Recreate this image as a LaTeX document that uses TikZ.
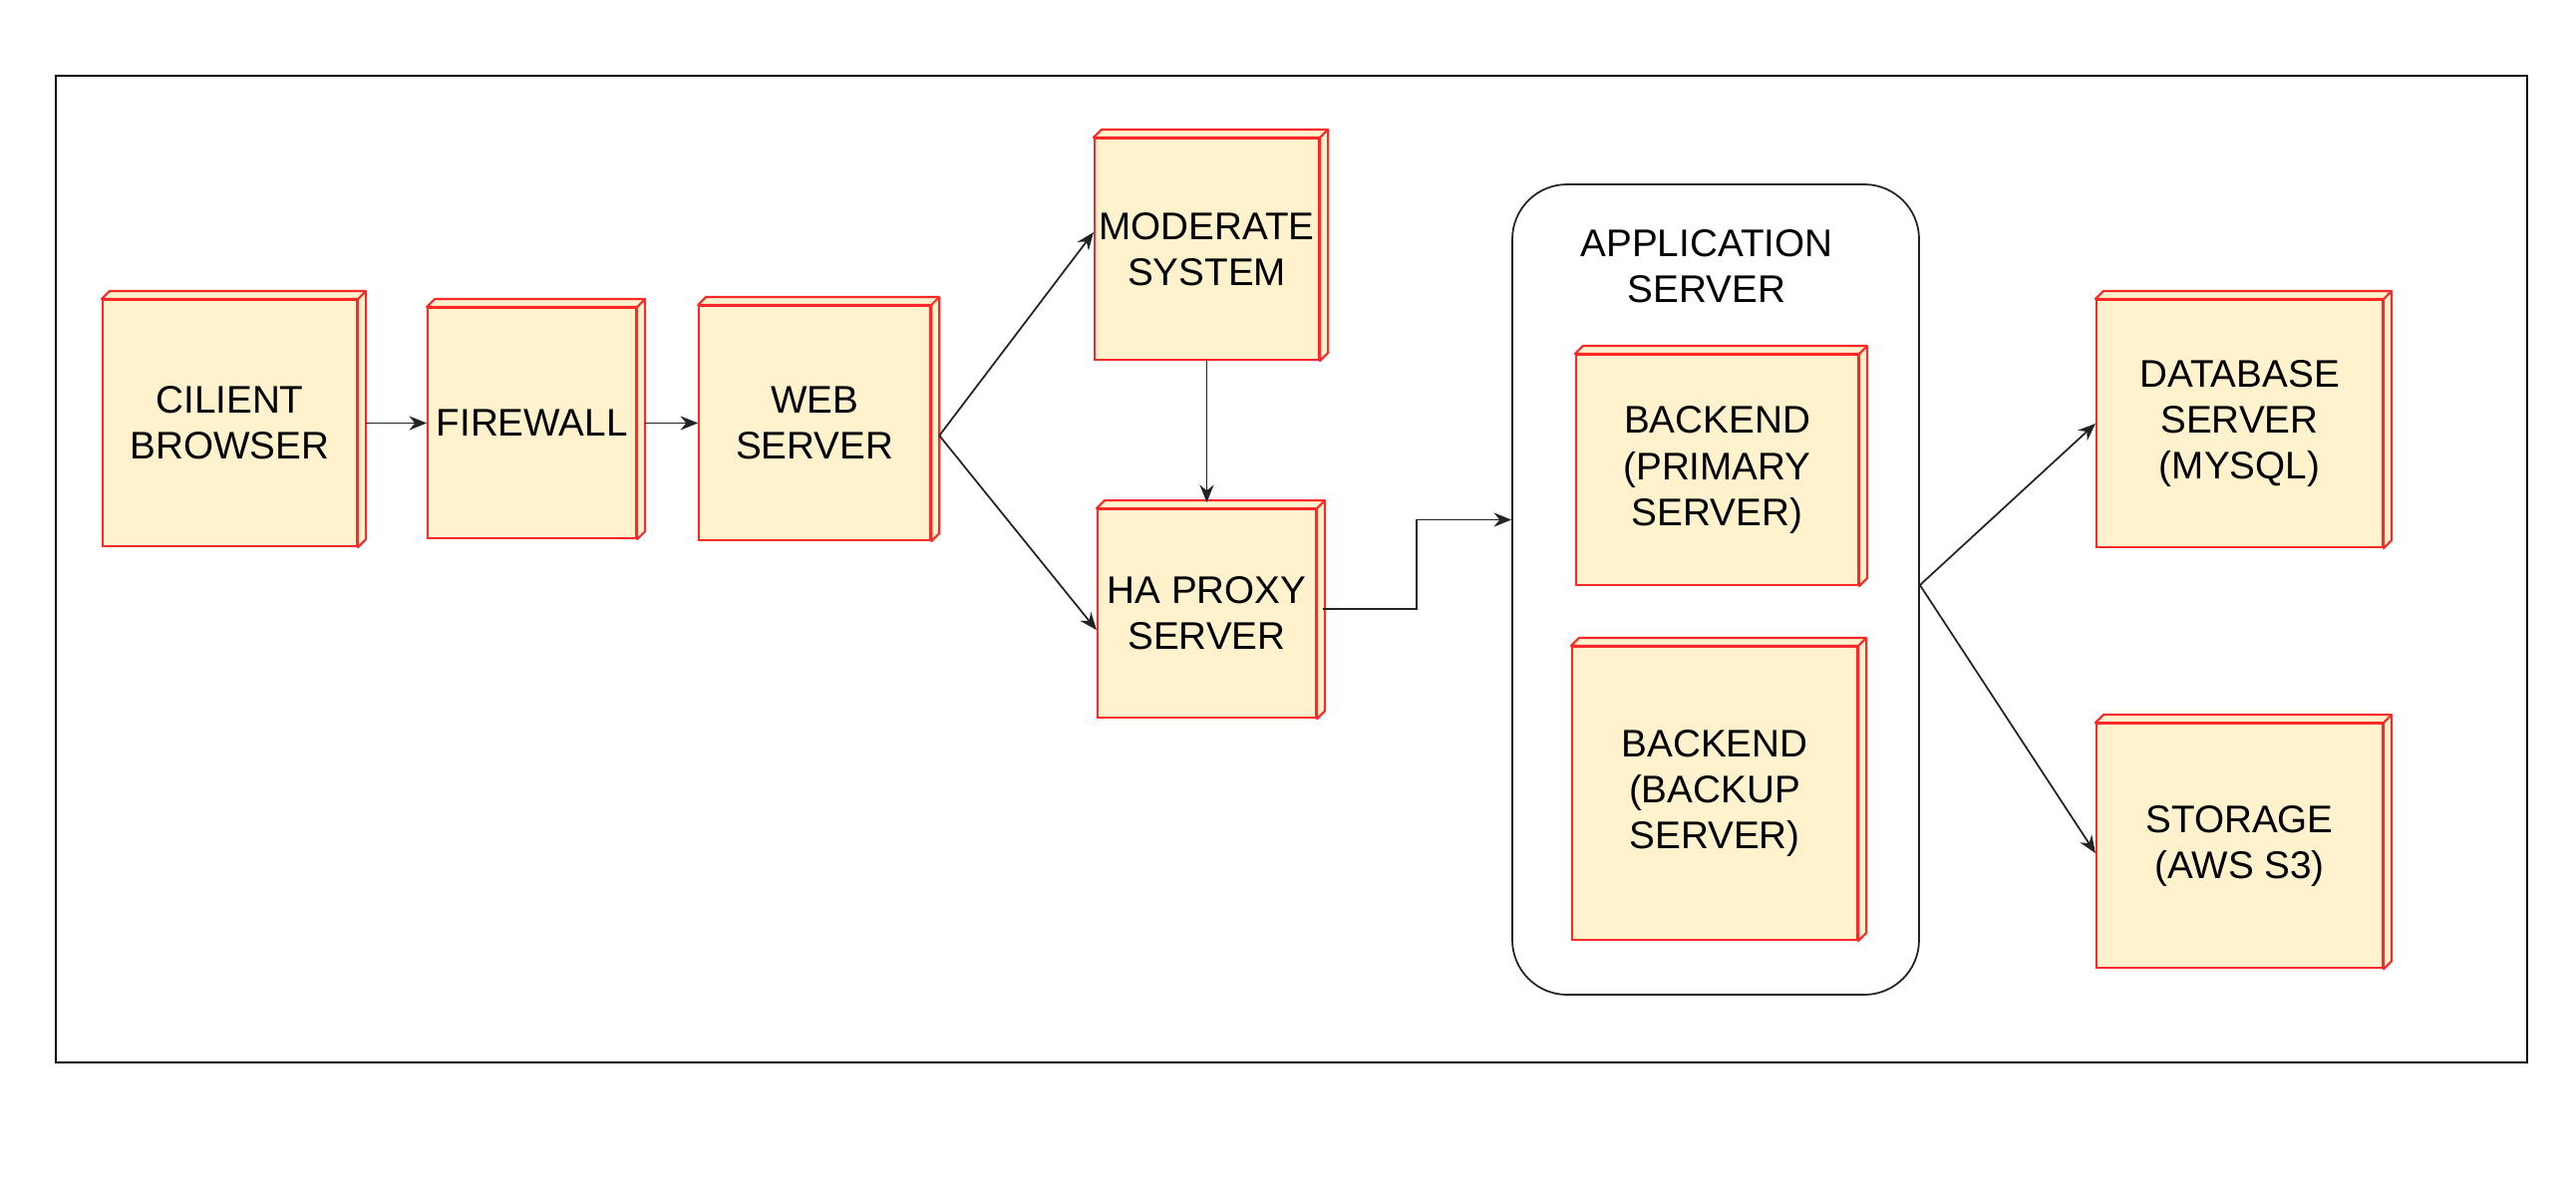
\documentclass[tikz,border=0pt]{standalone}
\usepackage{fontspec}
\setmainfont{Liberation Sans}
\usepackage{tikz}
\usepackage{xcolor}
\usetikzlibrary{arrows.meta, positioning, backgrounds}
\definecolor{boxfill}{RGB}{255,242,204}
\definecolor{boxedge}{RGB}{255,40,40}
\definecolor{linkcolor}{RGB}{35,35,35}

\begin{document}
\begin{tikzpicture}[
  font=\fontsize{11}{13.1}\selectfont,
  every node/.style={align=center},
  srvbox/.style={
    draw=boxedge, fill=boxfill, line width=0.6pt,
    inner sep=0pt
  },
  sideface/.style={draw=boxedge, fill=boxfill, line width=0.6pt, line join=round},
  groupbox/.style={
    draw=linkcolor, rounded corners=0.55cm, line width=0.5pt,
    minimum width=4.08cm, minimum height=8.13cm
  },
  arr/.style={-{Stealth[length=5pt, width=4pt]}, linkcolor, line width=0.5pt},
]
\useasboundingbox (0,0) rectangle (25.84,-12);

%% ─── Outer frame ─────────────────────────────────────────────────────────────

\node[draw=black, line width=0.5pt, minimum width=24.79cm, minimum height=9.90cm]
  (frame) at (12.955,-5.71) {};

%% ─── Application server group ────────────────────────────────────────────────

\node[groupbox] (app) at (17.21,-5.915) {};
\node (applabel) at (17.12,-2.675) {APPLICATION\\SERVER};

%% ─── Front row ───────────────────────────────────────────────────────────────

\node[srvbox, minimum width=2.55cm, minimum height=2.47cm] (client) at (2.305,-4.245)
  {CILIENT\\BROWSER};
\node[srvbox, minimum width=2.09cm, minimum height=2.31cm, right=0.69cm of client]
  (firewall) {FIREWALL};
\node[srvbox, minimum width=2.32cm, minimum height=2.35cm, right=0.61cm of firewall]
  (web) {WEB\\SERVER};

%% ─── Moderation / proxy ──────────────────────────────────────────────────────

\node[srvbox, minimum width=2.25cm, minimum height=2.22cm] (moderate) at (12.105,-2.50)
  {MODERATE\\SYSTEM};
\node[srvbox, minimum width=2.19cm, minimum height=2.09cm, below=1.48cm of moderate]
  (haproxy) {HA PROXY\\SERVER};

%% ─── Backends ────────────────────────────────────────────────────────────────

\node[srvbox, minimum width=2.83cm, minimum height=2.31cm] (primary) at (17.225,-4.715)
  {BACKEND\\(PRIMARY\\SERVER)};
\node[srvbox, minimum width=2.86cm, minimum height=2.94cm] (backup) at (17.20,-7.96)
  {BACKEND\\(BACKUP\\SERVER)};

%% ─── Data stores ─────────────────────────────────────────────────────────────

\node[srvbox, minimum width=2.87cm, minimum height=2.48cm] (database) at (22.465,-4.25)
  {DATABASE\\SERVER\\(MYSQL)};
\node[srvbox, minimum width=2.87cm, minimum height=2.45cm, below=1.75cm of database]
  (storage) {STORAGE\\(AWS S3)};

%% ─── 3D side faces ───────────────────────────────────────────────────────────

\foreach \nd in {client, firewall, web, moderate, haproxy, primary, backup, database, storage}{
  \draw[sideface] (\nd.north west) -- ++(0.08,0.08) -- ([shift={(0.08,0.08)}]\nd.north east)
    -- ([shift={(0.08,0.08)}]\nd.south east) -- (\nd.south east) -- (\nd.north east) -- cycle;
  \draw[sideface] (\nd.north east) -- ++(0.08,0.08);
}

%% ─── Connectors ──────────────────────────────────────────────────────────────

\draw[arr] ([xshift=0.08cm]client.east) -- (firewall.west);
\draw[arr] ([xshift=0.08cm]firewall.east) -- (web.west);

\coordinate (webout) at ([xshift=0.08cm, yshift=-0.125cm]web.east);
\draw[arr] (webout) -- ([yshift=0.17cm]moderate.west);
\draw[arr] (webout) -- ([yshift=-0.165cm]haproxy.west);

\draw[arr] (moderate.south) -- ([yshift=0.06cm]haproxy.north);
\draw[arr] ([xshift=0.06cm, yshift=0.05cm]haproxy.east) -- ++(0.94,0) |- ([yshift=0.7cm]app.west);

\coordinate (appout) at ([yshift=0.045cm]app.east);
\draw[arr] (appout) -- (database.west);
\draw[arr] (appout) -- ([yshift=-0.075cm]storage.west);

\end{tikzpicture}
\end{document}
